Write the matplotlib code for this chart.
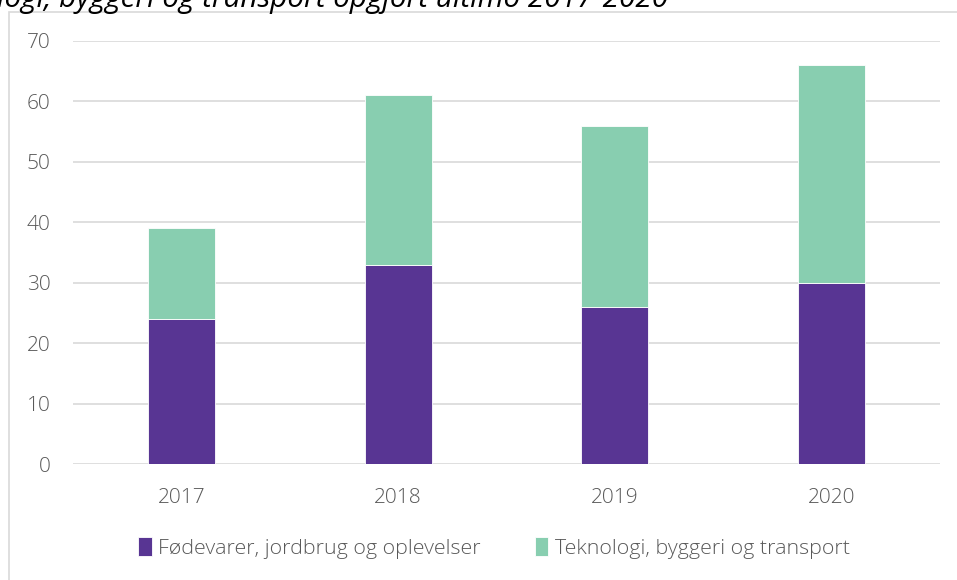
#Stacked bar chart: fordeling af virksomheder pr. år
import matplotlib.pyplot as plt
from matplotlib.patches import Rectangle

years = ["2017", "2018", "2019", "2020"]
foedevarer = [24, 33, 26, 30]
teknologi = [15, 28, 30, 36]
series_names = ["Fødevarer, jordbrug og oplevelser", "Teknologi, byggeri og transport"]
title = "logi, byggeri og transport opgjort ultimo 2017-2020"

purple = "#583593"
green = "#88CEB0"
grey = "#595959"

plt.rcParams['font.family'] = ['Open Sans', 'DejaVu Sans']
plt.rcParams['font.weight'] = 'light'

fig = plt.figure(figsize=(9.57, 5.8), dpi=100)
ax = fig.add_axes([73 / 957, 1 - 464 / 580, 867 / 957, (464 - 41) / 580])

x = range(len(years))
ax.bar(x, foedevarer, width=0.31, color=purple, edgecolor="white", linewidth=0.6,
       label=series_names[0], zorder=3)
ax.bar(x, teknologi, width=0.31, bottom=foedevarer, color=green, edgecolor="white",
       linewidth=0.6, label=series_names[1], zorder=3)

ax.set_xlim(-0.5, 3.5)
ax.set_ylim(0, 70)
ax.set_yticks(range(0, 71, 10))
ax.set_xticks(list(x))
ax.set_xticklabels(years)
ax.grid(axis="y", color="#D9D9D9", linewidth=1.2, zorder=0)
for s in ax.spines.values():
    s.set_visible(False)
ax.tick_params(axis="both", length=0, labelsize=15, labelcolor=grey)
ax.tick_params(axis="y", pad=16)
ax.tick_params(axis="x", pad=17)

leg = fig.legend(loc="center", bbox_to_anchor=(494 / 957, 1 - 548 / 580), ncol=2, frameon=False,
                 fontsize=15.4, handlelength=0.65, handleheight=0.95, handletextpad=0.3,
                 columnspacing=2.5, labelcolor=grey)

# chart area border
fig.patches.append(Rectangle((9 / 957, -0.01), 1.0, 1 - 12 / 580 + 0.01, transform=fig.transFigure,
                             fill=False, edgecolor="#D9D9D9", linewidth=1.2))

fig.text(-0.003, 1 - 7 / 580, title, ha="left", va="baseline", fontsize=21.3, style="italic",
         fontweight="normal", color="black")

fig.savefig("out.png", dpi=100)
